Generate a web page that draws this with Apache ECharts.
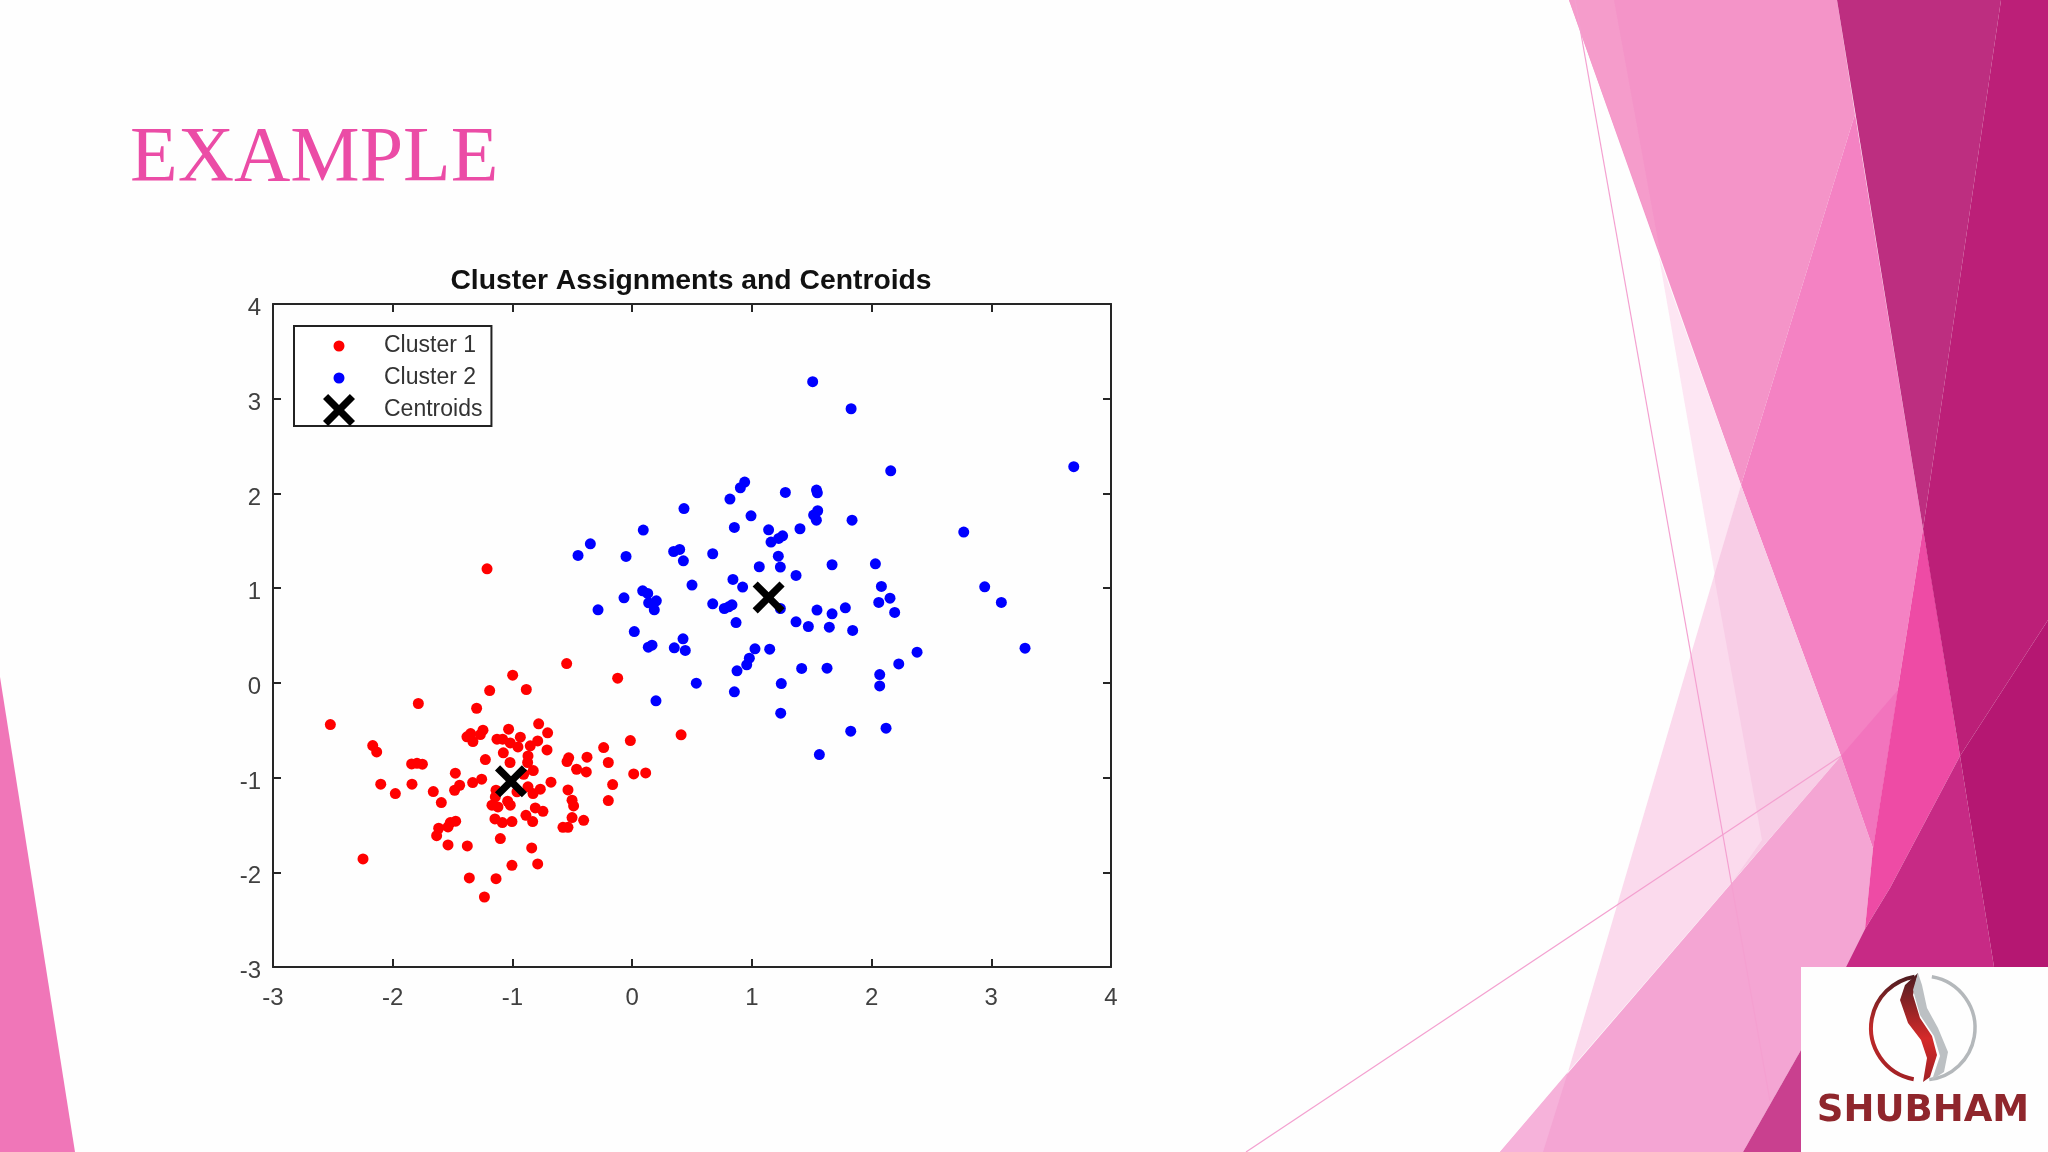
<!DOCTYPE html>
<html><head><meta charset="utf-8">
<style>html,body{margin:0;padding:0;background:#fff}#c{width:2048px;height:1152px}</style>
<script src="https://cdn.jsdelivr.net/npm/echarts@6/dist/echarts.min.js"></script>
</head><body><div id="c"></div>
<script>
const slideTitle = 'EXAMPLE';
const chartTitle = 'Cluster Assignments and Centroids';
const xTicks = [-3, 4];
const yTicks = [-3, 4];
const cluster1 = [[-1.212,1.204],[-0.547,0.204],[-0.121,0.049],[0.409,-0.549],[-0.015,-0.609],[-0.998,0.081],[-0.884,-0.07],[-1.19,-0.081],[-1.786,-0.218],[-2.521,-0.44],[-2.167,-0.662],[-2.134,-0.729],[-1.842,-0.856],[-1.797,-0.849],[-1.752,-0.859],[-2.1,-1.07],[-1.978,-1.169],[-1.839,-1.07],[-2.248,-1.859],[-1.234,-2.261],[-1.299,-0.268],[-0.781,-0.433],[-1.032,-0.489],[-0.706,-0.528],[-1.246,-0.5],[-1.268,-0.546],[-1.349,-0.535],[-1.38,-0.57],[-1.33,-0.62],[-1.129,-0.595],[-1.082,-0.595],[-1.018,-0.634],[-0.934,-0.574],[-0.954,-0.676],[-0.851,-0.665],[-0.789,-0.613],[-0.711,-0.708],[-1.076,-0.739],[-1.226,-0.81],[-1.02,-0.841],[-0.87,-0.771],[-0.873,-0.841],[-0.826,-0.926],[-0.53,-0.792],[-0.544,-0.831],[-0.377,-0.785],[-0.464,-0.912],[-0.383,-0.94],[-0.238,-0.683],[-0.199,-0.841],[-0.163,-1.074],[-0.199,-1.243],[0.013,-0.961],[0.113,-0.951],[-1.477,-0.954],[-1.257,-1.017],[-1.332,-1.053],[-1.441,-1.081],[-1.483,-1.134],[-1.661,-1.148],[-1.594,-1.264],[-0.678,-1.049],[-0.536,-1.13],[-0.767,-1.123],[-0.828,-1.169],[-0.87,-1.098],[-0.906,-0.965],[-0.962,-1.151],[-1.137,-1.134],[-1.143,-1.204],[-0.502,-1.239],[-0.489,-1.299],[-1.04,-1.25],[-1.018,-1.292],[-1.171,-1.292],[-1.121,-1.31],[-0.809,-1.32],[-0.745,-1.356],[-0.887,-1.398],[-0.831,-1.465],[-1.146,-1.437],[-1.084,-1.475],[-1.004,-1.465],[-0.502,-1.422],[-0.405,-1.451],[-0.578,-1.525],[-0.536,-1.525],[-1.474,-1.461],[-1.519,-1.475],[-1.538,-1.521],[-1.616,-1.535],[-1.633,-1.613],[-1.538,-1.711],[-1.377,-1.722],[-1.101,-1.644],[-0.839,-1.743],[-1.004,-1.926],[-0.789,-1.912],[-1.36,-2.06],[-1.137,-2.067]];
const cluster2 = [[0.94,2.12],[0.904,2.06],[0.817,1.94],[1.28,2.01],[1.54,2.035],[1.547,2.007],[0.433,1.84],[0.993,1.764],[1.55,1.817],[1.516,1.771],[1.539,1.718],[1.837,1.718],[0.854,1.641],[0.093,1.613],[1.14,1.616],[1.402,1.627],[1.257,1.553],[1.224,1.525],[1.16,1.486],[-0.349,1.468],[-0.452,1.345],[-0.051,1.335],[0.347,1.387],[0.397,1.409],[0.428,1.289],[0.673,1.363],[1.221,1.338],[1.062,1.226],[1.238,1.222],[1.67,1.247],[1.369,1.134],[0.842,1.092],[0.923,1.011],[0.5,1.032],[0.088,0.972],[0.13,0.944],[-0.068,0.898],[0.202,0.866],[0.138,0.845],[0.185,0.771],[-0.285,0.771],[0.673,0.835],[0.834,0.824],[0.806,0.803],[0.77,0.785],[0.868,0.637],[1.238,0.785],[1.544,0.768],[1.67,0.729],[1.781,0.792],[1.369,0.644],[1.472,0.595],[1.647,0.588],[1.842,0.553],[0.018,0.542],[0.425,0.465],[0.166,0.398],[0.135,0.377],[0.352,0.37],[0.444,0.342],[1.026,0.359],[1.149,0.356],[0.979,0.261],[0.957,0.19],[0.876,0.127],[1.416,0.152],[1.628,0.155],[0.536,-0.003],[0.854,-0.095],[1.246,-0.007],[0.199,-0.19],[1.241,-0.32],[1.826,-0.51],[1.564,-0.757],[2.032,1.257],[2.082,1.018],[2.154,0.894],[2.06,0.849],[2.193,0.743],[2.945,1.014],[3.084,0.849],[3.282,0.366],[2.38,0.324],[2.227,0.2],[2.068,0.088],[2.068,-0.032],[2.121,-0.479],[1.508,3.18],[1.829,2.894],[2.16,2.239],[3.689,2.282],[2.77,1.592]];
const centroids = [[-1.012,-1.039],[1.14,0.902]];
const seriesNames = ['Cluster 1','Cluster 2','Centroids'];

const poly = (points, fill) => ({type:'polygon', silent:true, z:0, shape:{points}, style:{fill}});
const decor = [
  poly([[0,677],[75,1152],[0,1152]],'#f076b8'),
  poly([[1569,0],[1837,0],[1855,114],[1741,485]],'#f494c8'),
  poly([[1569,0],[1614,0],[1661,257]],'#f59ccb'),
  poly([[1855,114],[1923,529],[1873,848],[1841,756],[1741,485]],'#f482c3'),
  poly([[1841,756],[1898,690],[1873,848]],'#f274bd'),
  poly([[1659,257],[1741,485],[1715,576]],'#fde6f3'),
  poly([[1741,485],[1841,756],[1733,881],[1714,576]],'#f8cde6'),
  poly([[1714,576],[1568,1072],[1733,881],[1762,840]],'#fbdaed'),
  poly([[1841,756],[1873,848],[1865,929],[1846,967],[1801,967],[1801,1050],[1743,1152],[1500,1152]],'#f4a5d3'),
  poly([[1500,1152],[1568,1072],[1543,1152]],'#f6b2da'),
  poly([[1923,529],[1931,576],[1960,756],[1890,888],[1865,929],[1873,848]],'#ee4ba5'),
  poly([[1960,756],[1994,967],[1846,967],[1865,929],[1890,888]],'#c72a85'),
  poly([[1801,1050],[1743,1152],[1801,1152]],'#c9408f'),
  poly([[1837,0],[2001,0],[1923,529]],'#bd2e80'),
  poly([[2001,0],[2048,0],[2048,620],[1960,756],[1923,529]],'#bc1f78'),
  poly([[2048,620],[2048,967],[1994,967],[1960,756]],'#b51772'),
  {type:'polyline', silent:true, z:1, shape:{points:[[1575,0],[1770,1101]]}, style:{stroke:'#f4a0d0',lineWidth:1.2,fill:null}},
  {type:'polyline', silent:true, z:1, shape:{points:[[1246,1152],[1841,756]]}, style:{stroke:'#f4a0d0',lineWidth:1.2,fill:null}},
  {type:'rect', silent:true, z:2, shape:{x:1801,y:967,width:247,height:185}, style:{fill:'#fefefe'}},
  {type:'arc', silent:true, z:3, shape:{cx:1923,cy:1028,r:52,startAngle:1.75,endAngle:4.55,clockwise:true}, style:{stroke:new echarts.graphic.LinearGradient(0,0,0,1,[{offset:0,color:'#4a1c20'},{offset:.5,color:'#c22a2a'},{offset:1,color:'#a02024'}]),lineWidth:4,fill:null}},
  {type:'arc', silent:true, z:3, shape:{cx:1923,cy:1028,r:52,startAngle:-1.4,endAngle:1.45,clockwise:true}, style:{stroke:'#b4b8bb',lineWidth:3.5,fill:null}},
  {type:'polygon', silent:true, z:3, shape:{points:[[1918,973],[1905,985],[1900,1000],[1908,1023],[1921,1040],[1927,1058],[1923,1082],[1930,1077],[1937,1055],[1932,1036],[1920,1018],[1913,995]]}, style:{fill:new echarts.graphic.LinearGradient(0,0,0,1,[{offset:0,color:'#4a1c20'},{offset:.6,color:'#d42a2a'},{offset:1,color:'#a02024'}])}},
  {type:'polygon', silent:true, z:3, shape:{points:[[1918,973],[1913,990],[1920,1015],[1934,1036],[1940,1056],[1932,1080],[1944,1072],[1948,1052],[1938,1028],[1927,1008],[1922,985]]}, style:{fill:'#bcc0c3'}},
  {type:'text', silent:true, z:3, style:{x:1923,y:1111,text:'SHUBHAM',align:'center',verticalAlign:'middle',fill:'#8f262c',font:'bold 37px "DejaVu Sans"'}}
];

const axisCommon = {
  type:'value', splitLine:{show:false},
  axisLine:{show:true,onZero:false,lineStyle:{color:'#262626',width:2}},
  axisTick:{show:true,inside:true,length:8,lineStyle:{color:'#262626',width:2}},
  interval:1
};
const labelStyle = {color:'#404040',fontFamily:'Liberation Sans',fontSize:24};
const dotStyle = c => ({color:c,opacity:1});
const dotIcon = 'path://M0 0h.01M32 32h.01M16 10.5a5.5 5.5 0 1 0 .01 0z';
const xIcon = 'path://M16 0L50 34L84 0L100 16L66 50L100 84L84 100L50 66L16 100L0 84L34 50L0 16Z';

const chart = echarts.init(document.getElementById('c'),null,{renderer:'canvas'});
chart.setOption({
  animation:false, backgroundColor:'#fefefe',
  title:[
    {text:slideTitle,left:125,top:116,textStyle:{color:'#eb4ca6',fontFamily:'Liberation Serif',fontSize:78,fontWeight:'normal'}},
    {text:chartTitle,left:686,top:262,textAlign:'center',textStyle:{color:'#111',fontFamily:'Liberation Sans',fontSize:28.3,fontWeight:'bold'}}
  ],
  grid:{left:273,top:304,width:838,height:663,containLabel:false},
  xAxis:[
    {...axisCommon,min:xTicks[0],max:xTicks[1],position:'bottom',axisLabel:{...labelStyle,margin:19}},
    {...axisCommon,min:xTicks[0],max:xTicks[1],position:'top',axisLabel:{show:false}}
  ],
  yAxis:[
    {...axisCommon,min:yTicks[0],max:yTicks[1],position:'left',axisLabel:{...labelStyle,margin:12,verticalAlign:'top',lineHeight:9}},
    {...axisCommon,min:yTicks[0],max:yTicks[1],position:'right',axisLabel:{show:false}}
  ],
  legend:{
    show:true,orient:'vertical',left:294,top:326,selectedMode:false,
    backgroundColor:'#fff',borderColor:'#222',borderWidth:2,borderRadius:0,
    padding:[4,9,0,29],itemGap:0,itemWidth:60,itemHeight:32,
    textStyle:{color:'#333',fontFamily:'Liberation Sans',fontSize:23,padding:[0,0,0,10]},
    data:[
      {name:seriesNames[0],icon:dotIcon,itemStyle:{color:'#f00'}},
      {name:seriesNames[1],icon:dotIcon,itemStyle:{color:'#00f'}},
      {name:seriesNames[2],icon:xIcon,itemStyle:{color:'#000'}}
    ]
  },
  tooltip:{show:false},
  series:[
    {name:seriesNames[0],type:'scatter',data:cluster1,symbolSize:11,itemStyle:dotStyle('#ff0000'),z:3},
    {name:seriesNames[1],type:'scatter',data:cluster2,symbolSize:11,itemStyle:dotStyle('#0000ff'),z:3},
    {name:seriesNames[2],type:'scatter',data:centroids,symbol:xIcon,symbolSize:32,itemStyle:{color:'#000',opacity:1},z:4}
  ],
  graphic:{elements:decor}
});
</script></body></html>
